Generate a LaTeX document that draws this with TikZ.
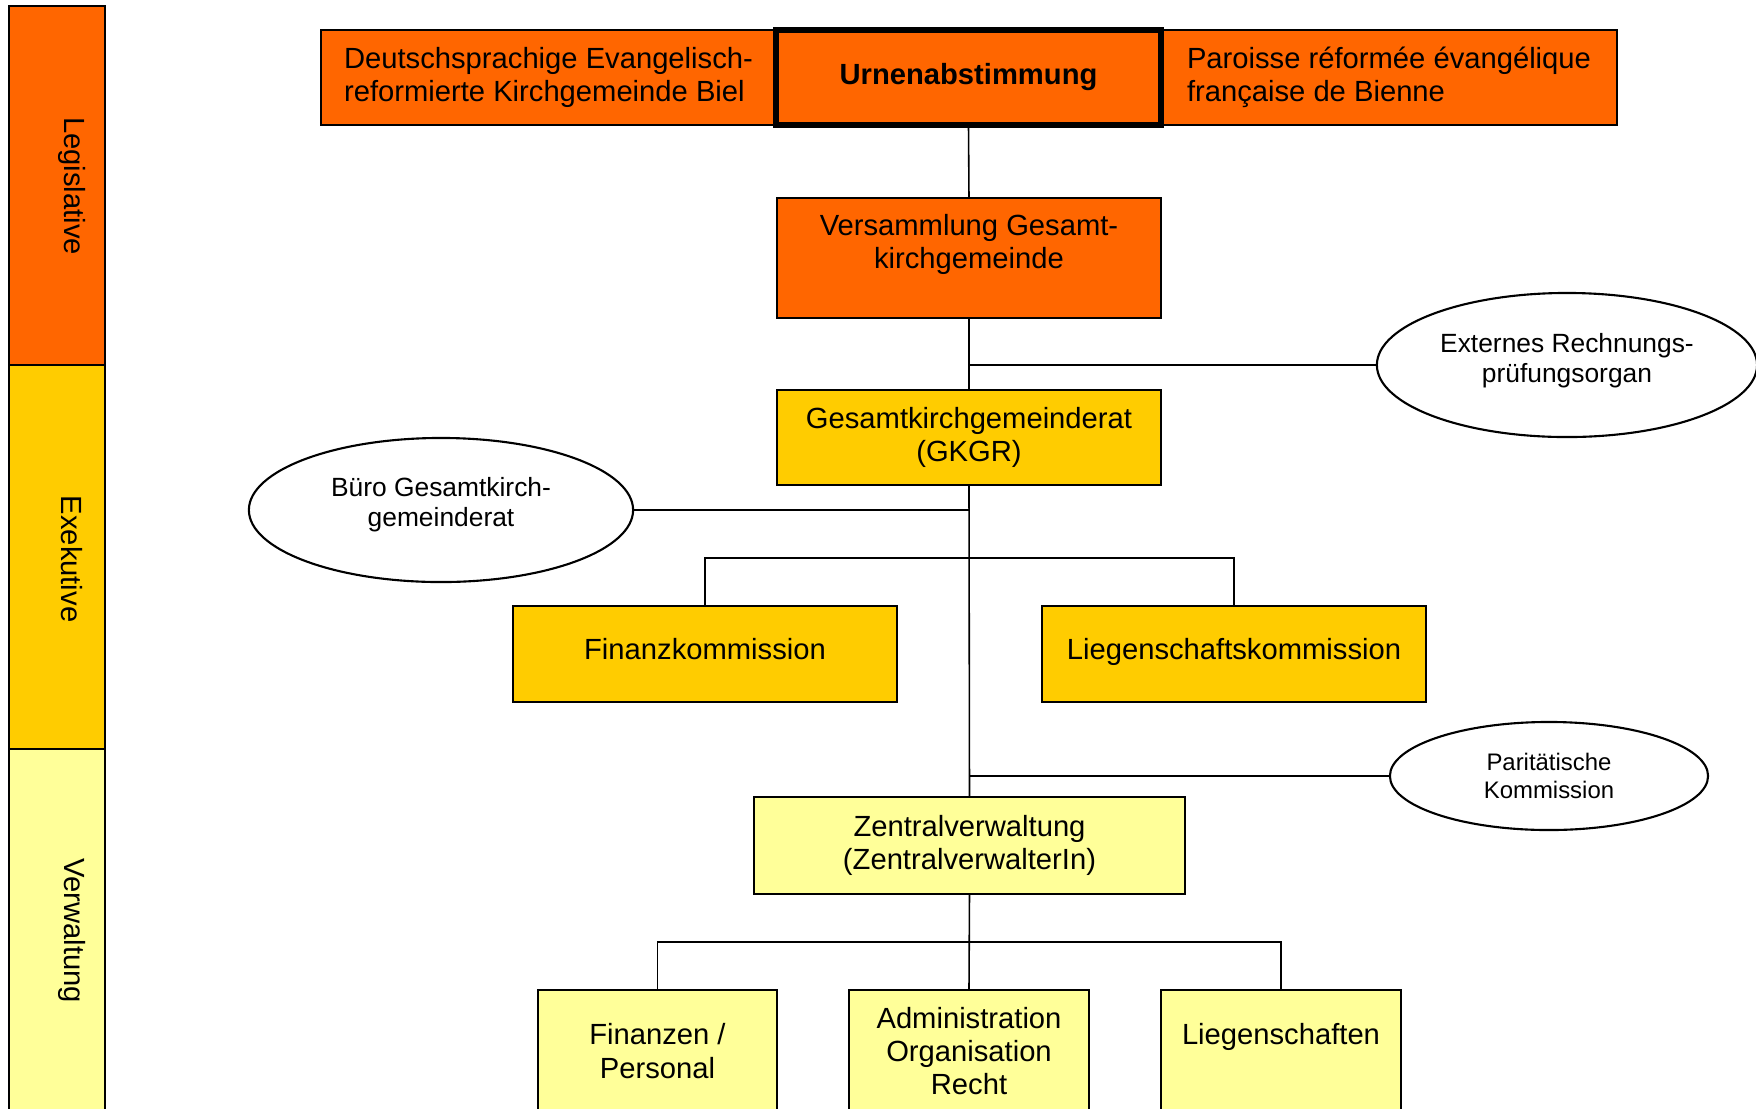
\documentclass[tikz,border=0pt]{standalone}
\usepackage{fontspec}
\setmainfont{Liberation Sans}
\usetikzlibrary{shapes.geometric,positioning}
\definecolor{legis}{HTML}{FF6600}
\definecolor{exek}{HTML}{FFCC00}
\definecolor{verw}{HTML}{FFFF99}
\tikzset{
  organ/.style={draw, line width=0.6pt, inner sep=1pt, outer sep=0pt, align=center,
    font=\fontsize{8.3}{9.5}\selectfont},
  organl/.style={organ, fill=legis},
  organe/.style={organ, fill=exek},
  organv/.style={organ, fill=verw},
  kommission/.style={organe, minimum width=3.84cm, minimum height=0.96cm,
    text height=6.05pt, text depth=2.67pt},
  gremium/.style={ellipse, draw, fill=white, line width=0.6pt, inner sep=0pt, align=center,
    font=\fontsize{7.5}{8.6}\selectfont},
  band/.style={draw, line width=0.7pt},
  bandlabel/.style={rotate=-90, font=\fontsize{8.3}{9.5}\selectfont},
  link/.style={line width=0.45pt}
}

\begin{document}
\begin{tikzpicture}[x=0.01cm, y=-0.01cm]
  \useasboundingbox (0,0) rectangle (1756,1108);

  \draw[band, fill=legis] (9,6) rectangle (105,365);
  \draw[band, fill=exek] (9,365) rectangle (105,749);
  \draw[band, fill=verw] (9,749) rectangle (105,1120);
  \node[bandlabel] (legislative) at (72,186) {Legislative};
  \node[bandlabel] (exekutive) at (72,559) {Exekutive};
  \node[bandlabel] (verwaltung) at (72,931) {Verwaltung};

  \node[organl, align=left, minimum width=4.55cm, minimum height=0.95cm] (deutsch) at (548.5,77.5)
    {Deutschsprachige Evangelisch-\\reformierte Kirchgemeinde Biel};
  \node[organl, align=left, minimum width=4.56cm, minimum height=0.95cm] (paroisse) at (1389,77.5)
    {Paroisse réformée évangélique\\française de Bienne};
  \node[organl, line width=1.6pt, minimum width=3.85cm, minimum height=0.95cm,
    font=\fontsize{8.3}{9.5}\selectfont\bfseries] (urnen) at (968.5,77.5) {Urnenabstimmung};

  \node[organl, minimum width=3.84cm, minimum height=1.2cm] (vers) at (969,258)
    {Versammlung Gesamt-\\kirchgemeinde\\ \mbox{}};
  \node[organe, minimum width=3.84cm, minimum height=0.95cm] (gkgr) at (969,437.5)
    {Gesamtkirchgemeinderat\\(GKGR)};
  \node[gremium, minimum width=3.8cm, minimum height=1.44cm] (extern) at (1567,365)
    {Externes Rechnungs-\\prüfungsorgan\\[-4.5pt]\mbox{}};
  \node[gremium, minimum width=3.84cm, minimum height=1.44cm] (buero) at (441,510)
    {Büro Gesamtkirch-\\gemeinderat\\[-3.8pt]\mbox{}};

  \node[kommission] (fk) at (705,654) {Finanzkommission};
  \node[kommission] (lk) at (1234,654) {Liegenschaftskommission};
  \node[gremium, minimum width=3.18cm, minimum height=1.08cm,
    font=\fontsize{6.8}{8.2}\selectfont] (parit) at (1549,776) {Paritätische\\Kommission};

  \node[organv, minimum width=4.31cm, minimum height=0.97cm] (zv) at (969.5,845.5)
    {Zentralverwaltung\\(ZentralverwalterIn)};
  \node[organv, minimum width=2.39cm, minimum height=1.22cm] (finpers) at (657.5,1051)
    {Finanzen /\\Personal};
  \node[organv, minimum width=2.4cm, minimum height=1.22cm] (admin) at (969,1051)
    {Administration\\Organisation\\Recht};
  \node[organv, minimum width=2.4cm, minimum height=1.22cm] (liegen) at (1281,1051)
    {Liegenschaften\\ \mbox{}};

  \coordinate (kom) at (969,558);
  \coordinate (abt) at (969,942);
  \draw[link] (urnen.south) -- (vers.north);
  \draw[link] (vers.south) -- (gkgr.north);
  \draw[link] (extern.west) -- (extern.west -| vers.south);
  \draw[link] (gkgr.south) -- (zv.north);
  \draw[link] (buero.east) -- (buero.east -| gkgr.south);
  \draw[link] (fk.north) |- (kom) -| (lk.north);
  \draw[link] (parit.west) -- (parit.west -| zv.north);
  \draw[link] (zv.south) -- (admin.north);
  \draw[link] (finpers.north) |- (abt) -| (liegen.north);
\end{tikzpicture}
\end{document}
